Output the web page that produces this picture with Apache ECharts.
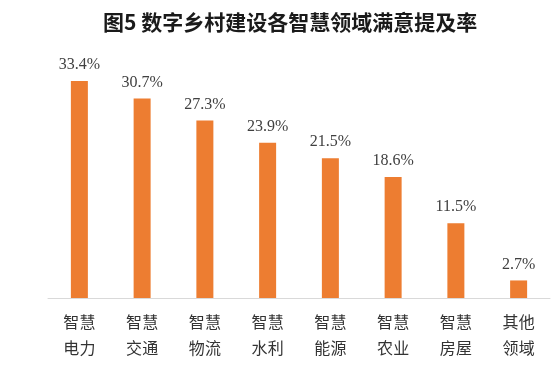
<!DOCTYPE html>
<html><head><meta charset="utf-8">
<script src="https://cdn.jsdelivr.net/npm/echarts@6/dist/echarts.min.js"></script>
<style>html,body{margin:0;padding:0;background:#fff}#c{width:559px;height:372px}</style>
</head><body><div id="c"></div>
<script>
var title = '图5 数字乡村建设各智慧领域满意提及率';
var categories = ['智慧\n电力','智慧\n交通','智慧\n物流','智慧\n水利','智慧\n能源','智慧\n农业','智慧\n房屋','其他\n领域'];
var values = [33.4, 30.7, 27.3, 23.9, 21.5, 18.6, 11.5, 2.7];

var chart = echarts.init(document.getElementById('c'), null, {renderer:'canvas'});
chart.setOption({
  animation:false,
  backgroundColor:'#ffffff',
  title:{text:title,left:98,top:7,textStyle:{fontFamily:'Noto Sans CJK SC',fontSize:21,fontWeight:'bold',color:'#1a1a1a'}},
  grid:{left:48,right:9,top:38,bottom:74},
  xAxis:{type:'category',data:categories,
    axisLine:{lineStyle:{color:'#d9d9d9',width:1}},
    axisTick:{show:false},
    axisLabel:{fontFamily:'Noto Sans CJK SC',fontSize:16,lineHeight:26,color:'#333333',margin:11,interval:0}},
  yAxis:{type:'value',min:0,max:40,show:false,splitLine:{show:false}},
  series:[{type:'bar',data:values,barWidth:17,
    itemStyle:{color:'#ED7D31'},
    label:{show:true,position:'top',distance:8,formatter:function(p){return p.value.toFixed(1)+'%';},
      fontFamily:'Liberation Serif',fontSize:16,color:'#404040'}}]
});
</script></body></html>
